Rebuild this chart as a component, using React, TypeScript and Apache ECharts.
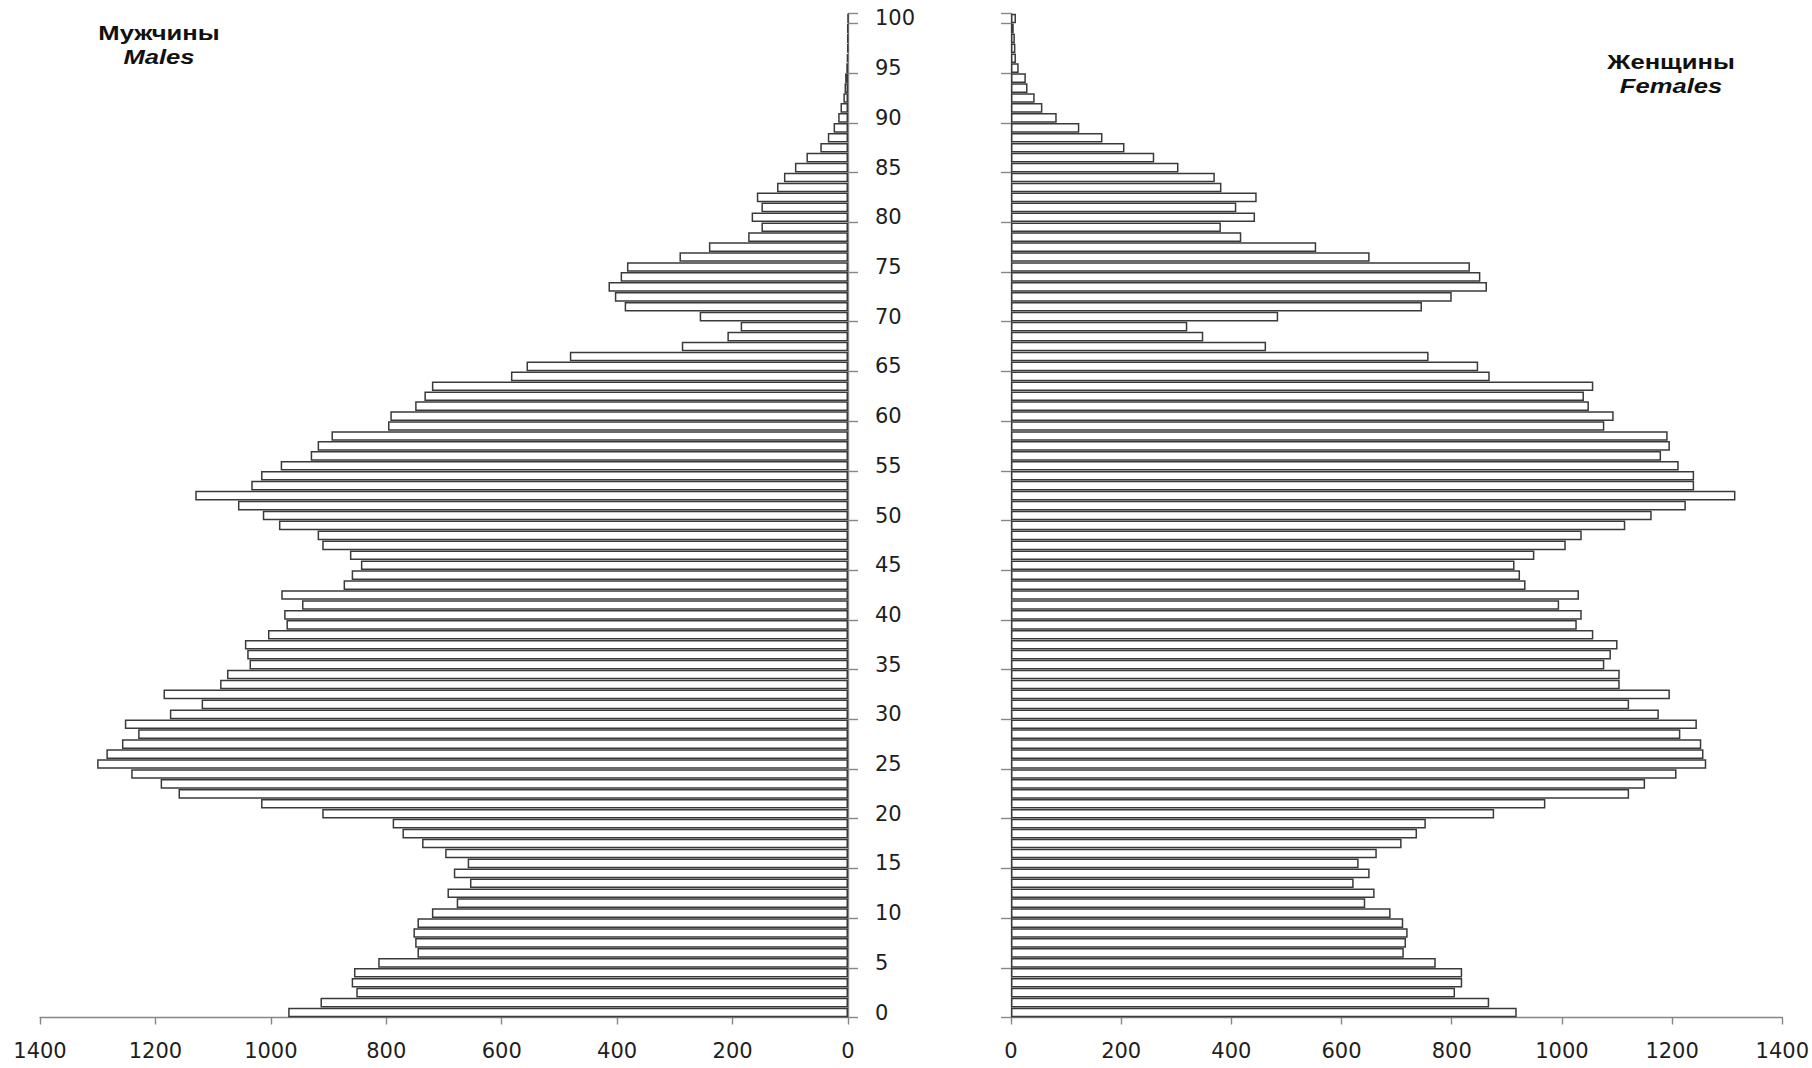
import React, { useEffect, useRef } from "react";
import * as echarts from "echarts";

// Age categories 0..100
const ages: string[] = Array.from({ length: 101 }, (_, i) => String(i));

// Males (thousands), ages 0..100
const males: number[] = [
  970, 914, 852, 860, 856,
  814, 746, 750, 753, 746,
  721, 678, 694, 655, 683,
  659, 698, 738, 772, 789,
  911, 1017, 1160, 1191, 1242,
  1301, 1285, 1258, 1230, 1253,
  1175, 1120, 1186, 1088, 1076,
  1037, 1041, 1045, 1005, 973,
  977, 946, 982, 874, 860,
  844, 863, 911, 919, 986,
  1014, 1057, 1131, 1034, 1017,
  983, 931, 919, 895, 797,
  793, 750, 734, 721, 584,
  557, 482, 288, 209, 186,
  257, 387, 404, 415, 394,
  383, 292, 241, 173, 150,
  167, 150, 158, 123, 111,
  92, 72, 48, 35, 25,
  17, 13, 8, 6, 5,
  3, 2, 1, 1, 1,
  0,
];

// Females (thousands), ages 0..100
const females: number[] = [
  918, 868, 806, 819, 819,
  771, 713, 717, 720, 712,
  689, 643, 660, 622, 651,
  631, 664, 709, 737, 753,
  877, 970, 1122, 1151, 1208,
  1262, 1257, 1253, 1215, 1245,
  1176, 1122, 1196, 1105, 1105,
  1077, 1089, 1101, 1057, 1027,
  1036, 995, 1031, 934, 924,
  914, 950, 1007, 1036, 1115,
  1163, 1225, 1315, 1240, 1240,
  1212, 1180, 1196, 1192, 1077,
  1094, 1049, 1040, 1057, 869,
  848, 758, 463, 349, 320,
  485, 746, 800, 864, 852,
  833, 651, 554, 418, 381,
  443, 409, 446, 382, 370,
  304, 260, 206, 166, 124,
  83, 57, 43, 30, 27,
  14, 9, 8, 7, 5,
  9,
];

const X_MIN = 0;
const X_MAX = 1400;
const X_STEP = 200;

const titleMaleRu = "Мужчины";
const titleMaleEn = "Males";
const titleFemaleRu = "Женщины";
const titleFemaleEn = "Females";

const W = 1812;
const H = 1068;

export default function App() {
  const ref = useRef<HTMLDivElement>(null);

  useEffect(() => {
    document.body.style.margin = "0";
    if (!ref.current) return;
    const chart = echarts.init(ref.current, undefined, { renderer: "svg" });

    const axisColor = "#868686";
    const barBorder = "#3a3a3a";
    const labelFont = {
      fontFamily: "DejaVu Sans",
      fontSize: 21,
      color: "#1e1e1e",
    };
    const tickFn = (i: number) => i % 5 === 0;

    const xAxisBase = {
      type: "value",
      min: X_MIN,
      max: X_MAX,
      interval: X_STEP,
      axisLine: { show: true, onZero: false, lineStyle: { color: axisColor, width: 1.4 } },
      axisTick: { show: true, length: 7, lineStyle: { color: axisColor, width: 1.4 } },
      splitLine: { show: false },
      axisLabel: { ...labelFont, margin: 23, formatter: (v: number) => String(v) },
    };

    const yAxisBase = {
      type: "category",
      data: ages,
      boundaryGap: true,
      axisLine: { show: true, onZero: false, lineStyle: { color: axisColor, width: 1.4 } },
      axisTick: { show: true, interval: tickFn, length: 10, lineStyle: { color: axisColor, width: 1.4 } },
      splitLine: { show: false },
    };

    const barStyle = {
      color: "#ffffff",
      borderColor: barBorder,
      borderWidth: 1.5,
    };

    const titleStyle = (text: string, italic: boolean) => ({
      text,
      fill: "#111",
      font: `${italic ? "italic " : ""}bold 21px "Liberation Sans", Arial, sans-serif`,
      textAlign: "center",
      textVerticalAlign: "middle",
    });

    chart.setOption({
      animation: false,
      backgroundColor: "#ffffff",
      grid: [
        { left: 40, right: W - 848, top: 13.5, bottom: H - 1017.5 },
        { left: 1011, right: W - 1784, top: 13.5, bottom: H - 1017.5 },
      ],
      xAxis: [
        { ...xAxisBase, gridIndex: 0, inverse: true, position: "bottom" },
        { ...xAxisBase, gridIndex: 1, position: "bottom" },
      ],
      yAxis: [
        {
          ...yAxisBase,
          gridIndex: 0,
          position: "right",
          axisLabel: { ...labelFont, interval: 4, align: "left", margin: 27 },
        },
        {
          ...yAxisBase,
          gridIndex: 1,
          position: "left",
          axisLabel: { show: false },
        },
      ],
      series: [
        {
          name: "Males",
          type: "bar",
          xAxisIndex: 0,
          yAxisIndex: 0,
          data: males,
          barCategoryGap: "3%",
          itemStyle: barStyle,
        },
        {
          name: "Females",
          type: "bar",
          xAxisIndex: 1,
          yAxisIndex: 1,
          data: females,
          barCategoryGap: "3%",
          itemStyle: barStyle,
        },
      ],
      graphic: [
        { type: "text", x: 159, y: 33, scaleX: 1.22, style: titleStyle(titleMaleRu, false) },
        { type: "text", x: 159, y: 57, scaleX: 1.22, style: titleStyle(titleMaleEn, true) },
        { type: "text", x: 1671, y: 62, scaleX: 1.22, style: titleStyle(titleFemaleRu, false) },
        { type: "text", x: 1671, y: 86, scaleX: 1.22, style: titleStyle(titleFemaleEn, true) },
      ],
    });

    return () => {
      chart.dispose();
    };
  }, []);

  return (
    <div
      ref={ref}
      style={{ position: "fixed", left: 0, top: 0, width: W, height: H, background: "#fff" }}
    />
  );
}
